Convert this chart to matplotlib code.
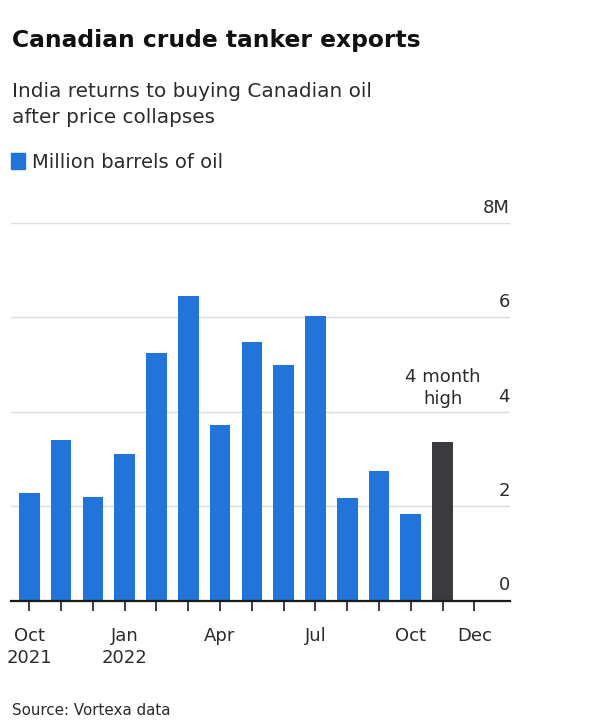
import matplotlib.pyplot as plt
import matplotlib.transforms as mtransforms
from matplotlib.patches import Rectangle

# data
months = ["Oct 2021", "Nov 2021", "Dec 2021", "Jan 2022", "Feb 2022", "Mar 2022", "Apr 2022",
          "May 2022", "Jun 2022", "Jul 2022", "Aug 2022", "Sep 2022", "Oct 2022", "Nov 2022"]
barrels = [2.28, 3.39, 2.19, 3.10, 5.24, 6.44, 3.71, 5.48, 4.98, 6.02, 2.17, 2.74, 1.83, 3.36]
highlight_month = "Nov 2022"
tick_labels = ["Oct\n2021", "", "", "Jan\n2022", "", "", "Apr", "", "", "Jul", "", "", "Oct", "", "Dec"]
y_ticks = [0, 2, 4, 6, 8]
y_tick_labels = ["0", "2", "4", "6", "8M"]

blue = "#2174d9"
dark = "#3b3a3f"
text_color = "#2b2b2b"

plt.rcParams['font.family'] = ['DejaVu Sans']

fig = plt.figure(figsize=(6, 7.22), dpi=100)
ax = fig.add_axes([11 / 600, 1 - 600.5 / 722, 499 / 600, (600.5 - 222.7) / 722])

x = list(range(len(months)))
colors = [dark if m == highlight_month else blue for m in months]
ax.bar(x, barrels, width=0.65, color=colors, zorder=2)

ax.set_xlim(-0.575, 15.12)
ax.set_ylim(0, 8)

for s in ["top", "right", "left"]:
    ax.spines[s].set_visible(False)
ax.spines["bottom"].set_color("#1a1a1a")
ax.spines["bottom"].set_linewidth(1.6)
ax.spines["bottom"].set_zorder(3)

ax.set_yticks(y_ticks)
ax.set_yticklabels([])
ax.tick_params(axis="y", length=0)
ax.yaxis.grid(True, color="#dcdcdc", linewidth=1.0, zorder=0)

# y labels sit just above their gridlines at the right end
trans = mtransforms.blended_transform_factory(ax.transAxes, ax.transData)
offset = mtransforms.ScaledTranslation(0, 6 / 100, fig.dpi_scale_trans)
for v, lab in zip(y_ticks, y_tick_labels):
    ax.text(1.0, v, lab, transform=trans + offset, ha="right", va="bottom", fontsize=13,
            color=text_color)

ax.set_xticks(range(len(tick_labels)))
ax.set_xticklabels(tick_labels, fontsize=13, color=text_color, linespacing=1.3)
ax.tick_params(axis="x", length=7, width=1.2, color="#1a1a1a", pad=12)

# annotation over the highlighted bar
hi = months.index(highlight_month)
ax.text(hi, barrels[hi] + 0.72, "4 month\nhigh", ha="center", va="bottom", fontsize=13,
        color=text_color, linespacing=1.3)

fig.text(12 / 600, 1 - 47 / 722, "Canadian crude tanker exports", fontsize=16.8,
         fontweight="bold", color="#111111", va="baseline")
fig.text(12 / 600, 1 - 123 / 722, "India returns to buying Canadian oil\nafter price collapses",
         fontsize=14.4, color=text_color, va="baseline", linespacing=1.45)
fig.add_artist(Rectangle((11 / 600, 1 - 169 / 722), 14 / 600, 16 / 722, transform=fig.transFigure,
                         color=blue))
fig.text(32 / 600, 1 - 168 / 722, "Million barrels of oil", fontsize=14, color=text_color,
         va="baseline")
fig.text(12 / 600, 1 - 715 / 722, "Source: Vortexa data", fontsize=10.9, color=text_color,
         va="baseline")

fig.savefig("out.png", dpi=100, facecolor="white")
